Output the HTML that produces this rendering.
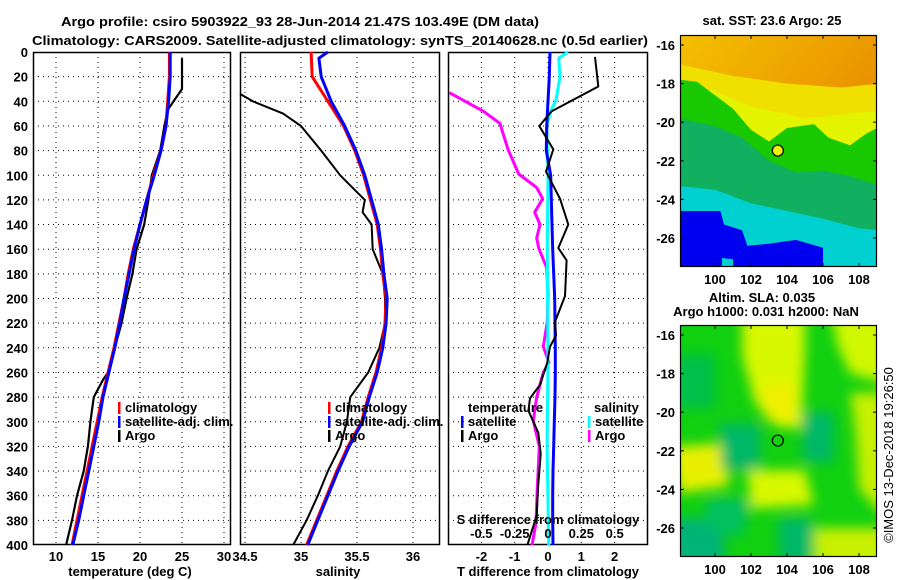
<!DOCTYPE html>
<html><head><meta charset="utf-8"><style>
html,body{margin:0;padding:0;background:#fff}
svg{display:block}
text{font-family:"Liberation Sans",sans-serif;font-weight:bold;font-size:13px;fill:#000}
</style></head><body>
<svg id="chart" width="900" height="580" viewBox="0 0 900 580">
<defs>
<filter id="blur6" filterUnits="userSpaceOnUse" x="640" y="280" width="260" height="300"><feGaussianBlur stdDeviation="6"/></filter>
<linearGradient id="sstTop" x1="0" y1="0" x2="1" y2="1">
<stop offset="0" stop-color="#f4c000"/><stop offset="0.5" stop-color="#ec9a00"/><stop offset="1" stop-color="#d86a00"/></linearGradient>
<clipPath id="clipMap1"><rect x="680" y="35" width="197" height="232"/></clipPath>
<clipPath id="clipMap2"><rect x="680" y="325" width="197" height="232"/></clipPath>
</defs>
<text x="300" y="26" text-anchor="middle" textLength="478" lengthAdjust="spacingAndGlyphs">Argo profile: csiro 5903922_93 28-Jun-2014 21.47S 103.49E (DM data)</text>
<text x="340" y="45" text-anchor="middle" textLength="616" lengthAdjust="spacingAndGlyphs">Climatology: CARS2009. Satellite-adjusted climatology: synTS_20140628.nc (0.5d earlier)</text>
<g id="g1"></g><g id="g2"></g><g id="g3"></g><g id="gm"></g>
<text transform="translate(893,455) rotate(-90)" text-anchor="middle" style="font-weight:normal;font-size:13px">©IMOS 13-Dec-2018 19:26:50</text>
</svg>
<script>
// ---- data ----
const depthTicks=[0,20,40,60,80,100,120,140,160,180,200,220,240,260,280,300,320,340,360,380,400];
const climDepth=[0,20,40,60,80,100,120,140,160,180,200,220,240,260,280,300,320,340,360,380,400];
const climTemp=[23.5,23.5,23.3,23.1,22.5,21.6,20.8,20.0,19.2,18.6,18.1,17.5,16.9,16.2,15.5,14.9,14.3,13.7,13.1,12.5,11.9];
const satTemp=[23.6,23.6,23.4,23.1,22.5,21.7,20.8,20.0,19.3,18.7,18.1,17.6,17.0,16.3,15.6,15.1,14.5,13.9,13.3,12.7,12.0];
const argoTDepth=[5,30,47,60,80,100,120,140,160,180,200,220,240,260,266,280,300,320,340,360,380,400];
const argoTemp=[25.0,25.0,23.3,22.9,22.4,21.4,21.0,20.5,19.6,19.1,18.4,17.8,17.0,16.2,15.6,14.5,14.1,13.8,13.3,12.5,11.9,11.2];
const climSal=[35.09,35.10,35.24,35.38,35.48,35.56,35.62,35.68,35.71,35.73,35.76,35.75,35.72,35.67,35.60,35.54,35.42,35.32,35.23,35.14,35.05];
const satSDepth=[0,5,20,40,60,80,100,120,140,160,180,200,220,240,260,280,300,320,340,360,380,400];
const satSal=[35.24,35.16,35.18,35.27,35.39,35.49,35.57,35.63,35.69,35.72,35.74,35.77,35.76,35.73,35.68,35.61,35.55,35.43,35.33,35.24,35.15,35.06];
const argoSDepth=[34,40,50,60,80,100,120,130,140,160,180,200,220,240,260,280,300,320,340,360,380,400];
const argoSal=[34.455,34.57,34.84,35.0,35.18,35.35,35.57,35.55,35.63,35.64,35.73,35.75,35.75,35.70,35.60,35.44,35.41,35.35,35.24,35.15,35.05,34.93];
const satTDiff=[0.06,0.04,0.0,-0.04,-0.05,0.08,0.1,0.12,0.14,0.17,0.2,0.21,0.22,0.22,0.21,0.19,0.17,0.15,0.14,0.14,0.15];
const argoTdDepth=[4,28,48,60,79,97,119,140,159,169,198,219,230,239,252,270,281,291,309,326,354,376,400];
const argoTDiff=[1.41,1.51,0.11,-0.26,0.16,-0.06,0.36,0.61,0.31,0.56,0.51,0.21,0.24,0.06,-0.02,-0.24,-0.54,-0.59,-0.29,-0.22,-0.3,-0.34,-0.62];
const satSdDepth=[0,5,20,39,48,60,100,160,250,320,400];
const satSDiff=[0.15,0.08,0.09,0.06,0.02,-0.01,0.0,-0.005,0.0,-0.007,0.005];
const argoSdDepth=[33,48,58,79,99,110,119,130,140,151,159,175,197,219,239,252,260,280,299,320,354,382,400];
const argoSDiff=[-0.74,-0.485,-0.36,-0.30,-0.22,-0.085,-0.04,-0.1,-0.06,-0.085,-0.07,-0.01,0.0,-0.005,-0.035,0.0075,-0.035,-0.085,-0.11,-0.065,-0.08,-0.09,-0.12];
const tempTicks=[10,15,20,25,30];
const salTicks=[34.5,35,35.5,36];
const salTickLabels=["34.5","35","35.5","36"];
const tdTicks=[-2,-1,0,1,2];
const sdTicks=[-0.5,-0.25,0,0.25,0.5];
const sdTickLabels=["-0.5","-0.25","0","0.25","0.5"];
const latTicks=[-16,-18,-20,-22,-24,-26];
const lonTicks=[100,102,104,106,108];
const argoLon=103.49, argoLat=-21.47;

const NS="http://www.w3.org/2000/svg";
function mk(parent,tag,attrs,txt){const e=document.createElementNS(NS,tag);for(const k in attrs)e.setAttribute(k,attrs[k]);if(txt!==undefined)e.textContent=txt;parent.appendChild(e);return e;}
const Y0=52,Y1=545;
const yD=d=>Y0+(d/400)*(Y1-Y0);
const xT=v=>56+(v-10)*8.4;
const xS=v=>245+(v-34.5)*112;
const xTD=v=>548+v*33.3;
const xSD=v=>548+v*133.3;

function frame(g,x0,x1,vt,xf,name){
  for(const d of depthTicks){ if(d===0||d===400)continue;
    const l=mk(g,'line',{x1:x0,x2:x1,y1:yD(d),y2:yD(d),stroke:'#000','stroke-width':1,'stroke-dasharray':'1,4'});
    }
  for(const v of vt){const x=xf(v); if(x<=x0||x>=x1)continue;
    const l=mk(g,'line',{x1:x,x2:x,y1:Y0,y2:Y1,stroke:'#000','stroke-width':1,'stroke-dasharray':'1,4'});
    }
  const r=mk(g,'rect',{x:x0+0.5,y:Y0+0.5,width:x1-x0-1,height:Y1-Y0-1,fill:'none',stroke:'#000','stroke-width':1.5});
  
}
function line(g,xs,ds,xf,color,w,name){
  const pts=xs.map((v,i)=>xf(v).toFixed(1)+','+yD(ds[i]).toFixed(1)).join(' ');
  const p=mk(g,'polyline',{points:pts,fill:'none',stroke:color,'stroke-width':w,'stroke-linejoin':'round'});
  
  return p;
}
function legend(g,x,y,color,label,name){
  const b=mk(g,'rect',{x:x,y:y-10,width:2.5,height:12,fill:color});
  
  const t=mk(g,'text',{x:x+7,y:y},label);
  
}
// panel 1
const g1=document.getElementById('g1');

frame(g1,33,231,tempTicks,xT,'temperature-panel');
for(const d of depthTicks){const t=mk(g1,'text',{x:28,y:yD(d)+5,'text-anchor':'end'},String(d));
  }
tempTicks.forEach(v=>{const t=mk(g1,'text',{x:xT(v),y:561,'text-anchor':'middle'},String(v));
  });
{const t=mk(g1,'text',{x:130,y:576,'text-anchor':'middle'},'temperature (deg C)');}
line(g1,argoTemp,argoTDepth,xT,'#000',2.2,'argo-temperature-line');
line(g1,climTemp,climDepth,xT,'#ff0000',3,'clim-temperature-line');
line(g1,satTemp,climDepth,xT,'#0000ff',3,'sat-temperature-line');
legend(g1,118,412,'#ff0000','climatology','legend-climatology');
legend(g1,118,426,'#0000ff','satellite-adj. clim.','legend-satellite-adj');
legend(g1,118,440,'#000','Argo','legend-argo');
// panel 2
const g2=document.getElementById('g2');

frame(g2,240,440,salTicks,xS,'salinity-panel');
salTicks.forEach((v,i)=>{const t=mk(g2,'text',{x:xS(v),y:561,'text-anchor':'middle'},salTickLabels[i]);
  });
{const t=mk(g2,'text',{x:338,y:576,'text-anchor':'middle'},'salinity');}
line(g2,argoSal,argoSDepth,xS,'#000',2,'argo-salinity-line');
line(g2,climSal,climDepth,xS,'#ff0000',3,'clim-salinity-line');
line(g2,satSal,satSDepth,xS,'#0000ff',3,'sat-salinity-line');
legend(g2,328,412,'#ff0000','climatology','legend-climatology');
legend(g2,328,426,'#0000ff','satellite-adj. clim.','legend-satellite-adj');
legend(g2,328,440,'#000','Argo','legend-argo');
// panel 3
const g3=document.getElementById('g3');

frame(g3,448,648,tdTicks,xTD,'difference-panel');
tdTicks.forEach(v=>{const t=mk(g3,'text',{x:xTD(v),y:561,'text-anchor':'middle'},String(v));
  });
{const t=mk(g3,'text',{x:548,y:576,'text-anchor':'middle'},'T difference from climatology');}
line(g3,argoSDiff,argoSdDepth,xSD,'#ff00ff',3,'argo-s-diff-line');
line(g3,satSDiff,satSdDepth,xSD,'#00ffff',3,'sat-s-diff-line');
line(g3,satTDiff,climDepth,xTD,'#0000ff',3,'sat-t-diff-line');
line(g3,argoTDiff,argoTdDepth,xTD,'#000',2,'argo-t-diff-line');
{const t=mk(g3,'text',{x:468,y:412},'temperature');}
legend(g3,461,426,'#0000ff','satellite','legend-t-satellite');
legend(g3,461,440,'#000','Argo','legend-t-argo');
{const t=mk(g3,'text',{x:594,y:412},'salinity');}
legend(g3,588,426,'#00ffff','satellite','legend-s-satellite');
legend(g3,588,440,'#ff00ff','Argo','legend-s-argo');
{const t=mk(g3,'text',{x:548,y:524,'text-anchor':'middle'},'S difference from climatology');}
sdTicks.forEach((v,i)=>{const t=mk(g3,'text',{x:xSD(v),y:538,'text-anchor':'middle'},sdTickLabels[i]);
  });

// maps
const gm=document.getElementById('gm');
const lonX=lon=>715+(lon-100)*18;
function mapAxes(top,name){
  const latY=lat=>top+10+(-16-lat)*19.3;
  const bot=top+232;
  latTicks.forEach(l=>{const y=latY(l);
    const t=mk(gm,'text',{x:675,y:y+5,'text-anchor':'end'},String(l));
    
    mk(gm,'line',{x1:680,x2:684,y1:y,y2:y,stroke:'#000'});mk(gm,'line',{x1:873,x2:877,y1:y,y2:y,stroke:'#000'});});
  lonTicks.forEach(l=>{const x=lonX(l);
    const t=mk(gm,'text',{x:x,y:bot+17,'text-anchor':'middle'},String(l));
    
    mk(gm,'line',{x1:x,x2:x,y1:top,y2:top+4,stroke:'#000'});mk(gm,'line',{x1:x,x2:x,y1:bot-4,y2:bot,stroke:'#000'});});
  const r=mk(gm,'rect',{x:680.5,y:top+0.5,width:196,height:231,fill:'none',stroke:'#000','stroke-width':1.2});
  
  return latY;
}
function poly(g,pts,fill,name,latY){
  const s=pts.map(p=>lonX(p[0]).toFixed(1)+','+latY(p[1]).toFixed(1)).join(' ');
  const p=mk(g,'polygon',{points:s,fill:fill});
  
}
// map 1 SST
{
  const latY=lat=>35+10+(-16-lat)*19.3;
  const g=mk(gm,'g',{'clip-path':'url(#clipMap1)'});
  
  mk(g,'rect',{x:680,y:35,width:197,height:232,fill:'url(#sstTop)'});
  poly(g,[[98,-17.0],[101,-17.6],[104,-18.0],[107,-18.2],[109.2,-18],[109.2,-28],[98,-28]],'#f0e000','sst-yellow',latY);
  poly(g,[[98,-18],[100,-18.4],[102,-19.2],[105,-19.8],[107,-19.6],[109.2,-19.4],[109.2,-28],[98,-28]],'#e4f400','sst-yellow-green',latY);
  poly(g,[[98,-17.8],[99,-17.9],[100,-18.6],[101,-19.3],[102,-20.4],[103,-21],[104,-20.3],[105.5,-20.1],[106.3,-20.8],[107.5,-21.2],[108.4,-20.6],[109.2,-20.2],[109.2,-28],[98,-28]],'#18c800','sst-green',latY);
  poly(g,[[98,-19.8],[100,-20.2],[101.5,-20.8],[103,-22],[104.5,-22.6],[106,-22.5],[107.5,-22.8],[109.2,-23.3],[109.2,-28],[98,-28]],'#10b060','sst-teal-green',latY);
  poly(g,[[98,-23.3],[100,-23.5],[102,-24.2],[104,-24.6],[106,-25],[108,-25.5],[109.2,-25.6],[109.2,-28],[98,-28]],'#00d0d0','sst-cyan',latY);
  poly(g,[[98,-24.6],[100.3,-24.6],[100.5,-25.3],[101.5,-25.6],[101.8,-26.4],[103,-26.3],[104.5,-26.1],[106,-26.5],[106,-27.6],[101,-27.6],[101,-27.1],[98,-26.8]],'#0000f0','sst-blue',latY);
  mk(g,'rect',{x:680,y:228,width:42,height:40,fill:'#0000f0'});
  const c=mk(gm,'circle',{cx:lonX(argoLon),cy:latY(argoLat),r:5.5,fill:'#f0f000',stroke:'#000','stroke-width':1.2});
  
  mapAxes(35,'sst-map');
  const t=mk(gm,'text',{x:772,y:25,'text-anchor':'middle'},'sat. SST: 23.6 Argo: 25');
  
}
// map 2 SLA
{
  const latY=lat=>325+10+(-16-lat)*19.3;
  const g=mk(gm,'g',{'clip-path':'url(#clipMap2)'});
  
  mk(g,'rect',{x:680,y:325,width:197,height:232,fill:'#10d010'});
  const b=mk(g,'g',{filter:'url(#blur6)'});
  poly(b,[[101.5,-15],[105,-15],[105,-17],[104.8,-20.8],[103.5,-20.8],[102.2,-19.5],[101.5,-17]],'#d8f800','sla-blob',latY);
  poly(b,[[102.5,-18.5],[104.5,-18.5],[104.5,-20.6],[102.8,-20.4]],'#eef000','sla-blob',latY);
  poly(b,[[106.5,-15],[109.5,-15],[109.5,-18.5],[107.5,-18],[106.8,-16.5]],'#d0f800','sla-blob',latY);
  poly(b,[[107.5,-19],[109.5,-19],[109.5,-25.5],[108,-24],[107.8,-21]],'#c8f000','sla-blob',latY);
  poly(b,[[97.5,-21.8],[100.5,-21.6],[100.8,-23.8],[98,-24.2]],'#e8f000','sla-blob',latY);
  poly(b,[[101.8,-23],[105,-23],[105.5,-24.8],[102,-25]],'#d8f800','sla-blob',latY);
  poly(b,[[105.5,-26],[109.5,-26],[109.5,-28],[105.5,-28]],'#c8f000','sla-blob',latY);
  poly(b,[[100.2,-20.6],[102.5,-20.6],[102.5,-23],[100.4,-23]],'#00b868','sla-blob',latY);
  poly(b,[[104.8,-20],[106.6,-20],[106.6,-22.6],[104.9,-22.6]],'#00b868','sla-blob',latY);
  poly(b,[[97.5,-25.5],[100.5,-25.5],[100.5,-28],[97.5,-28]],'#00b478','sla-blob',latY);
  poly(b,[[99.5,-24.5],[102,-24.5],[101.5,-26.5],[99.5,-26]],'#00c060','sla-blob',latY);
  poly(b,[[103.5,-25.5],[105.5,-25.5],[105.3,-28],[103.6,-28]],'#00b868','sla-blob',latY);
  poly(b,[[97.5,-17],[100,-17],[100,-19.8],[97.5,-19.8]],'#00c048','sla-blob',latY);
  const c=mk(gm,'circle',{cx:lonX(argoLon),cy:latY(argoLat),r:5.5,fill:'none',stroke:'#000','stroke-width':1.2});
  
  mapAxes(325,'sla-map');
  const t1=mk(gm,'text',{x:762,y:302,'text-anchor':'middle'},'Altim. SLA: 0.035');
  
  const t2=mk(gm,'text',{x:766,y:316,'text-anchor':'middle'},'Argo h1000: 0.031 h2000: NaN');
  
}
</script>
</body></html>
